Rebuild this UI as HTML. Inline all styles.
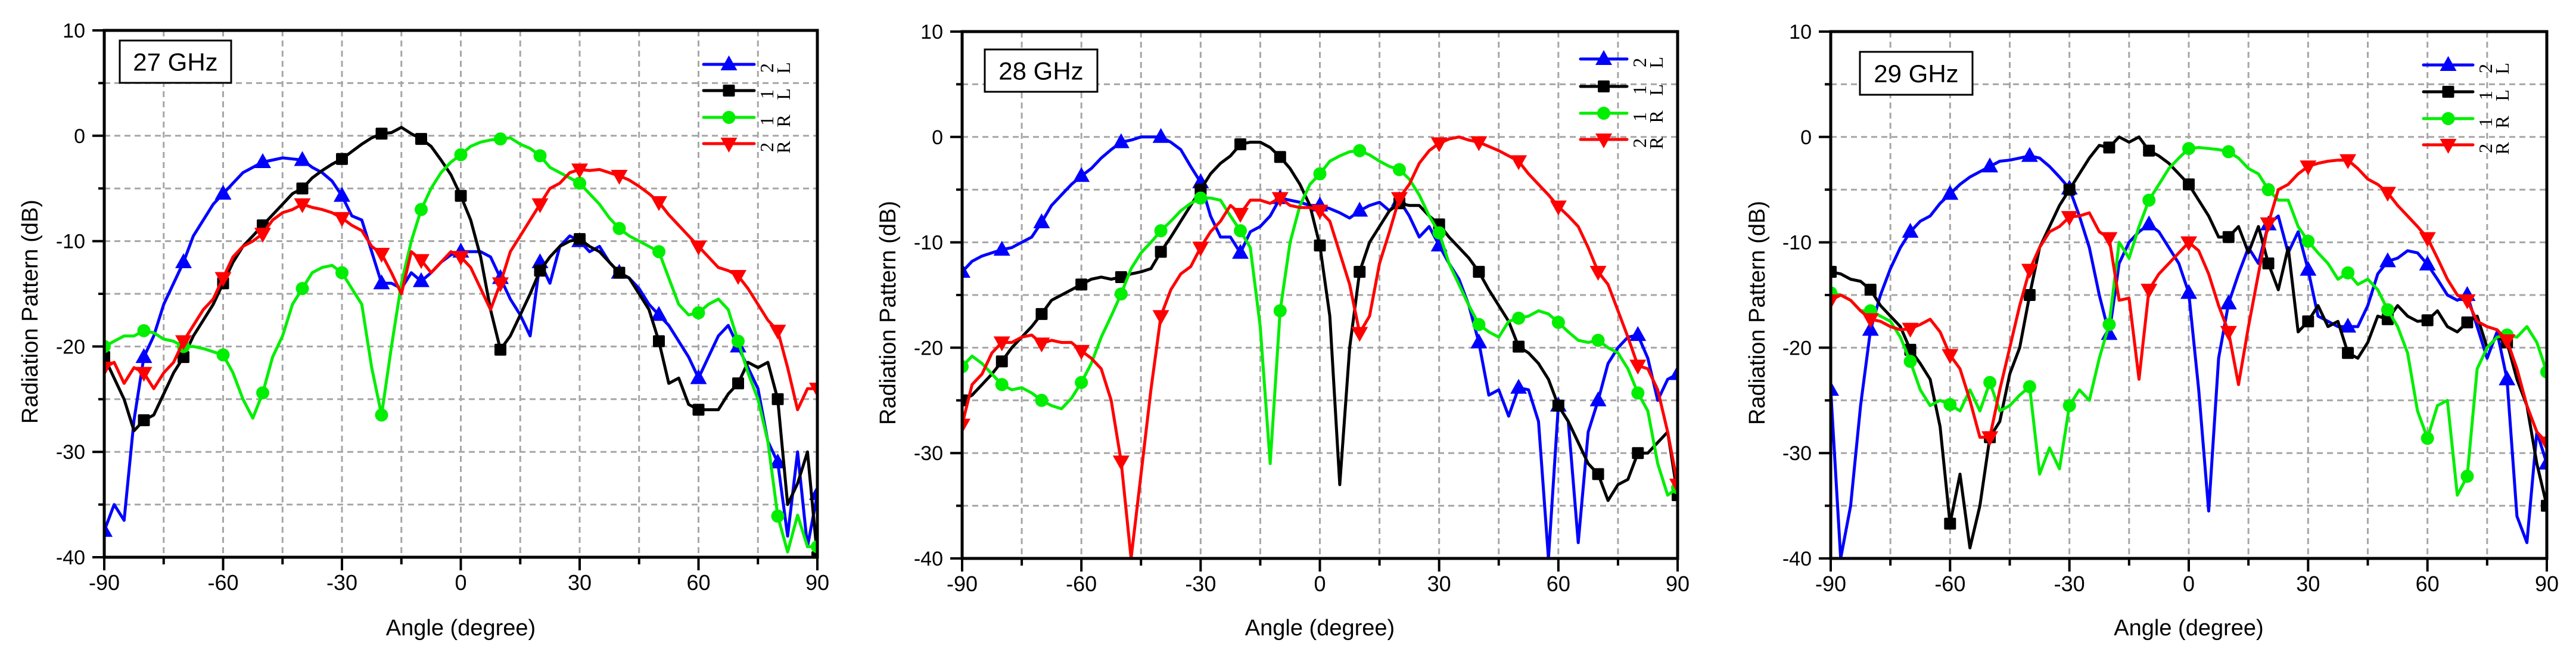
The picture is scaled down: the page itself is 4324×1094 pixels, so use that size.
<!DOCTYPE html>
<html><head><meta charset="utf-8"><style>
html,body{margin:0;padding:0;background:#fff;}
svg{display:block;font-family:"Liberation Sans",Arial,sans-serif;}
</style></head><body>
<svg id="root" width="4324" height="1094" viewBox="0 0 4324 1094" xmlns="http://www.w3.org/2000/svg"></svg>
<script>
// ---- data ----
const xTicks = [-90,-60,-30,0,30,60,90];
const yTicks = [10,0,-10,-20,-30,-40];
const seriesNames = ["L2","L1","R1","R2"];
const chartTitles = ["27 GHz","28 GHz","29 GHz"];
const angles = [];
for (let a = -90; a <= 90.001; a += 2.5) angles.push(a);

const c27Blue = [-37.5,-35,-36.5,-27,-21,-19,-16,-14,-12,-9.5,-8,-6.5,-5.5,-4.5,-3.5,-3,-2.5,-2.3,-2.1,-2.2,-2.3,-3,-3.5,-4.3,-5.7,-7.6,-8,-11,-14,-14,-14.5,-13,-13.8,-13,-12,-11.3,-11,-11,-11,-11.5,-13.5,-15.5,-17,-19,-12,-14,-10.5,-9.5,-10,-11,-10.5,-12,-13,-13.5,-14.5,-16,-17,-18,-19.5,-21,-23,-21,-19,-18,-20,-22,-24,-29,-31,-38,-30,-39,-34];
const c27Black = [-21,-23,-25,-28,-27,-26.5,-24.5,-22.5,-21,-19,-17.5,-16,-14,-12,-10.5,-9.5,-8.5,-7.5,-6.5,-5.5,-5,-4,-3.3,-2.7,-2.2,-1.5,-0.8,-0.2,0.2,0.3,0.8,0.2,-0.3,-1,-2.3,-3.7,-5.7,-8,-11.5,-16.5,-20.3,-19,-17,-15,-12.8,-11.5,-10.5,-10,-9.8,-10.5,-11,-12,-13,-13.5,-15,-16.5,-19.5,-23.5,-23,-25.5,-26,-26,-26,-24.5,-23.5,-21.5,-22,-21.5,-25,-35,-33,-30,-40];
const c27Green = [-20,-19.5,-19,-19,-18.5,-18.7,-19.3,-19.5,-20,-20,-20.2,-20.5,-20.8,-22.5,-25,-26.8,-24.4,-21,-19,-16,-14.5,-13,-12.5,-12.3,-13,-14.5,-16,-22,-26.5,-20,-14,-10,-7,-5,-3.5,-2.5,-1.8,-1,-0.6,-0.4,-0.3,-0.2,-0.8,-1.2,-1.9,-3,-3.5,-4,-4.5,-5.5,-6.5,-7.8,-8.8,-9.5,-10,-10.5,-11,-13.5,-16,-17,-16.8,-16,-15.5,-16.5,-19.5,-22.5,-25,-29,-36.1,-39.5,-36,-39,-39];
const c27Red = [-22,-21.5,-23.5,-22,-22.5,-24,-22.5,-21.5,-19.5,-18,-16.5,-15.5,-13.5,-11.5,-10.5,-10,-9.3,-8,-7.3,-7,-6.5,-6.8,-7,-7.3,-7.8,-8.5,-9,-10.5,-11.2,-13,-15,-11,-11.8,-13,-12,-11,-11.5,-12.5,-14.5,-16.5,-14,-11,-9.5,-8,-6.5,-5,-4.5,-3.5,-3.2,-3.3,-3.2,-3.5,-3.8,-4.2,-4.8,-5.5,-6.3,-7.5,-8.5,-9.5,-10.5,-11.5,-12.5,-12.8,-13.3,-14.5,-16,-17.5,-18.5,-22,-26,-24,-24];

const c28Blue = [-12.8,-11.8,-11.3,-11,-10.7,-10.5,-10,-9.5,-8.1,-6.5,-5.5,-4.5,-3.7,-3,-2,-1.2,-0.5,-0.3,0,0,0,-0.5,-1.2,-2.8,-4.3,-7.5,-9.5,-9.5,-11,-9,-8.5,-7.5,-5.8,-6,-6.2,-6.5,-6.5,-6.8,-7.2,-7.7,-7,-6.5,-6.2,-7,-6,-7.5,-9.5,-8.5,-10.3,-12,-13.5,-16,-19.5,-24.5,-24,-26.5,-23.8,-24,-27,-40,-25.5,-27,-38.5,-28,-25,-21.5,-20,-19,-18.8,-21,-25,-23,-22.5];
const c28Black = [-25,-24.5,-23.5,-22.5,-21.3,-20,-19,-18,-16.8,-15.5,-15,-14.5,-14,-13.5,-13.3,-13.5,-13.3,-13,-12.8,-12.5,-10.9,-9.5,-8,-6.5,-5,-3.5,-2.5,-1.8,-0.7,-0.5,-0.5,-1,-1.9,-3,-4.5,-6.5,-10.3,-17,-33,-20,-12.8,-10,-8.5,-7,-6.3,-6.5,-6.5,-7.5,-8.3,-9.5,-10.5,-11.5,-12.8,-14.5,-16,-17.5,-19.9,-20.5,-21.5,-23,-25.5,-27,-29,-31,-32,-34.5,-33,-32.5,-30,-30,-29,-28,-34];
const c28Green = [-21.8,-20.8,-21.5,-22.5,-23.5,-24,-23.8,-24.3,-25,-25.5,-25.8,-24.8,-23.3,-21.5,-19,-17,-14.9,-12.5,-11,-10,-8.9,-8,-7,-6.3,-5.8,-5.8,-6,-7.5,-8.9,-10.5,-18,-31,-16.5,-10,-6.5,-4.5,-3.5,-2.3,-1.8,-1.4,-1.3,-1.7,-2.3,-2.8,-3.1,-4,-5.5,-7.5,-9.1,-12,-14,-16,-17.8,-18.5,-19,-17.5,-17.2,-17,-16.5,-16.8,-17.6,-18.5,-19.3,-19.5,-19.3,-20,-20.5,-22,-24.3,-26,-31,-34,-33.3];
const c28Red = [-27.3,-23.5,-22.5,-20.5,-19.5,-19.5,-19,-18.8,-19.6,-19.3,-19.5,-19.5,-20.3,-21,-22,-25,-30.8,-40,-32,-24,-17,-14.5,-13,-12.3,-10.5,-9,-8,-6.5,-7.3,-6,-6,-6.3,-5.8,-6.5,-6.7,-6.7,-7,-8,-11,-14,-18.6,-17,-12,-9,-5.8,-4.5,-2.5,-1.3,-0.6,-0.2,0,-0.3,-0.5,-0.9,-1.3,-1.8,-2.3,-3.5,-4.5,-5.5,-6.6,-7.5,-8.5,-10.5,-12.8,-14,-16.5,-19,-21.7,-22,-24,-28,-33];

const c29Blue = [-24,-40,-35,-25.5,-18.3,-15,-12.5,-10.5,-9,-8,-7.5,-6.3,-5.4,-4.5,-3.8,-3.3,-2.8,-2.3,-2.2,-2,-1.8,-2,-2.8,-3.8,-4.9,-7.5,-10.5,-15,-18.7,-12,-10,-9,-8.3,-9,-10.5,-12,-14.8,-24,-35.5,-21,-15.8,-13,-10.5,-12,-8.3,-7.5,-11,-9,-12.6,-17,-17.5,-18,-18,-18,-16,-13,-11.8,-11.5,-10.8,-11,-12.1,-13.5,-15,-15.5,-15,-18,-21,-18.5,-23,-36,-38.5,-28,-31];
const c29Black = [-12.8,-13,-13.5,-13.7,-14.5,-16,-17,-18,-20.2,-21.5,-23,-27.5,-36.7,-32,-39,-35,-28.5,-27,-22.5,-20,-15,-10.5,-8.5,-6.5,-5,-3.5,-2,-0.8,-1,0,-0.5,0,-1.3,-1.8,-2.5,-3.5,-4.5,-6,-7.5,-9.5,-9.5,-8.5,-11,-8.5,-12,-14.5,-10.5,-18.5,-17.5,-16,-18,-17.5,-20.5,-21,-19.5,-17,-17.3,-16,-17,-17.5,-17.4,-16.5,-18,-18.5,-17.6,-17,-20,-19,-19.5,-23,-25.5,-31,-35];
const c29Green = [-14.8,-15,-15.5,-16.5,-16.5,-17,-17.5,-19,-21.3,-24,-25.5,-25,-25.4,-26,-24,-26,-23.3,-26,-25.5,-24.5,-23.7,-32,-29.5,-31.5,-25.5,-24,-25,-21,-17.8,-10,-11.5,-8.5,-6,-4.5,-3,-2,-1.1,-1,-1.1,-1.2,-1.4,-2,-3,-3.5,-5,-6,-6,-8.5,-9.9,-11,-12,-13.5,-12.9,-14,-13.5,-14.5,-16.4,-18,-20.5,-26,-28.6,-25.5,-25,-34,-32.2,-22,-20,-19,-18.8,-19,-18,-19.5,-22.3];
const c29Red = [-15.5,-15,-15.5,-16.5,-17.3,-17.5,-18,-18.3,-18.2,-17.8,-17.3,-18.5,-20.7,-22,-25,-28.5,-28.5,-24,-20,-16,-12.6,-10.5,-9,-8.5,-7.6,-7.5,-7.2,-9,-9.6,-15.5,-15.3,-23,-14.5,-13,-12,-11,-10,-10.8,-13,-16,-18.5,-23.5,-18,-13,-8.2,-5,-4.5,-3.5,-2.8,-2.5,-2.3,-2.2,-2.2,-3,-4,-4.5,-5.3,-6.5,-7.5,-8.5,-9.6,-11.5,-13.5,-15,-15.5,-17.5,-18,-18.3,-19.3,-22,-25.5,-28,-29];

const charts = [
  {L:175, R:1372, T:51, B:935, ylx:50, box:[201,68,187,71], leg:[1181,1266,[108,152,197,241]], series:[c27Blue,c27Black,c27Green,c27Red]},
  {L:1615, R:2816, T:53, B:937, ylx:1490, box:[1653,83,189,71], leg:[2653,2731,[99,145,190,234]], series:[c28Blue,c28Black,c28Green,c28Red]},
  {L:3073, R:4275, T:53, B:937, ylx:2949, box:[3122,87,189,72], leg:[4068,4151,[109,154,199,243]], series:[c29Blue,c29Black,c29Green,c29Red]}
];
const colors = ["#0000ff","#000000","#00ee00","#ff0000"];
const markers = ["tri-up","square","circle","tri-down"];

const NS = "http://www.w3.org/2000/svg";
const root = document.getElementById("root");
function mk(tag, attrs, parent){ const e=document.createElementNS(NS,tag); for(const k in attrs) e.setAttribute(k,attrs[k]); (parent||root).appendChild(e); return e; }
function marker(g, type, x, y, col){
  let e;
  if(type==="tri-up") e=mk("polygon",{points:`${x},${y-15} ${x-14},${y+10} ${x+14},${y+10}`,fill:col},g);
  else if(type==="tri-down") e=mk("polygon",{points:`${x},${y+15} ${x-14},${y-10} ${x+14},${y-10}`,fill:col},g);
  else if(type==="square") e=mk("rect",{x:x-10,y:y-10,width:20,height:20,rx:2,fill:col},g);
  else e=mk("circle",{cx:x,cy:y,r:11,fill:col},g);
  return e;
}

charts.forEach((c, ci) => {
  const xs = a => c.L + (a+90)/180*(c.R-c.L);
  const ys = v => c.T + (10-v)/50*(c.B-c.T);
  const g = mk("g",{});
  
  
  mk("clipPath",{id:"clip"+ci},g).appendChild((()=>{const r=document.createElementNS(NS,"rect");r.setAttribute("x",c.L);r.setAttribute("y",c.T);r.setAttribute("width",c.R-c.L);r.setAttribute("height",c.B-c.T);return r;})());
  for(let a=-75;a<90;a+=15){
    const l = mk("line",{x1:xs(a),x2:xs(a),y1:c.T,y2:c.B,stroke:"#a6a6a6","stroke-width":3,"stroke-dasharray":"10 7"},g);
    
    
  }
  for(let v=5;v>-40;v-=5){
    const l = mk("line",{x1:c.L,x2:c.R,y1:ys(v),y2:ys(v),stroke:"#a6a6a6","stroke-width":3,"stroke-dasharray":"10 7"},g);
    
    
  }
  const sg = mk("g",{"clip-path":`url(#clip${ci})`},g);
  c.series.forEach((vals, si) => {
    const pts = vals.map((v,i)=>xs(angles[i]).toFixed(1)+","+ys(v).toFixed(1)).join(" ");
    const pl = mk("polyline",{points:pts,fill:"none",stroke:colors[si],"stroke-width":5,"stroke-linejoin":"round"},sg);
    
    
    vals.forEach((v,i)=>{
      if (Math.abs(angles[i]%10) < 0.01) {
        const m = marker(sg, markers[si], xs(angles[i]), ys(v), colors[si]);
        
        
      }
    });
  });
  const fr = mk("rect",{x:c.L,y:c.T,width:c.R-c.L,height:c.B-c.T,fill:"none",stroke:"#000","stroke-width":5},g);
  
  
  for(let a=-90;a<=90;a+=15){
    const major = a%30===0;
    mk("line",{x1:xs(a),x2:xs(a),y1:c.B,y2:c.B+(major?22:12),stroke:"#000","stroke-width":4},g);
  }
  xTicks.forEach(a=>{
    const t = mk("text",{x:xs(a),y:c.B+55,"font-size":36,"text-anchor":"middle"},g);
    t.textContent = a;
    
    
  });
  for(let v=10;v>=-40;v-=5){
    const major = v%10===0;
    mk("line",{x1:c.L-(major?20:10),x2:c.L,y1:ys(v),y2:ys(v),stroke:"#000","stroke-width":4},g);
  }
  yTicks.forEach(v=>{
    const t = mk("text",{x:c.L-32,y:ys(v)+12,"font-size":34,"text-anchor":"end"},g);
    t.textContent = v;
    
    
  });
  const xt = mk("text",{x:(c.L+c.R)/2,y:1066,"font-size":38,"text-anchor":"middle"},g);
  xt.textContent = "Angle (degree)";
  
  
  const ymid = (c.T+c.B)/2 + 30;
  const yt = mk("text",{x:c.ylx+13,y:ymid,"font-size":38,"text-anchor":"middle",transform:`rotate(-90 ${c.ylx+13} ${ymid})`},g);
  yt.textContent = "Radiation Pattern (dB)";
  
  
  const [bx,by,bw,bh] = c.box;
  const tb = mk("rect",{x:bx,y:by,width:bw,height:bh,fill:"#fff",stroke:"#000","stroke-width":3},g);
  
  
  const tt = mk("text",{x:bx+bw/2,y:by+bh/2+15,"font-size":42,"text-anchor":"middle"},g);
  tt.textContent = chartTitles[ci];
  
  
  const [lx1,lx2,rows] = c.leg;
  seriesNames.forEach((nm,si)=>{
    const lg = mk("g",{},g);
    
    
    const y = rows[si];
    mk("line",{x1:lx1,x2:lx2,y1:y,y2:y,stroke:colors[si],"stroke-width":5,"stroke-linecap":"round"},lg);
    marker(lg, markers[si], (lx1+lx2)/2, y, colors[si]);
    const t1x = lx2+32, t2x = lx2+60;
    const t1 = mk("text",{x:t1x,y:y+6,"font-size":32,"font-family":"Liberation Serif, serif","text-anchor":"middle",transform:`rotate(-90 ${t1x} ${y+6})`},lg);
    t1.textContent = nm[1];
    
    
    const t2 = mk("text",{x:t2x,y:y+6,"font-size":32,"font-family":"Liberation Serif, serif","text-anchor":"middle",transform:`rotate(-90 ${t2x} ${y+6})`},lg);
    t2.textContent = nm[0];
    
    
  });
});
</script>
</body></html>
